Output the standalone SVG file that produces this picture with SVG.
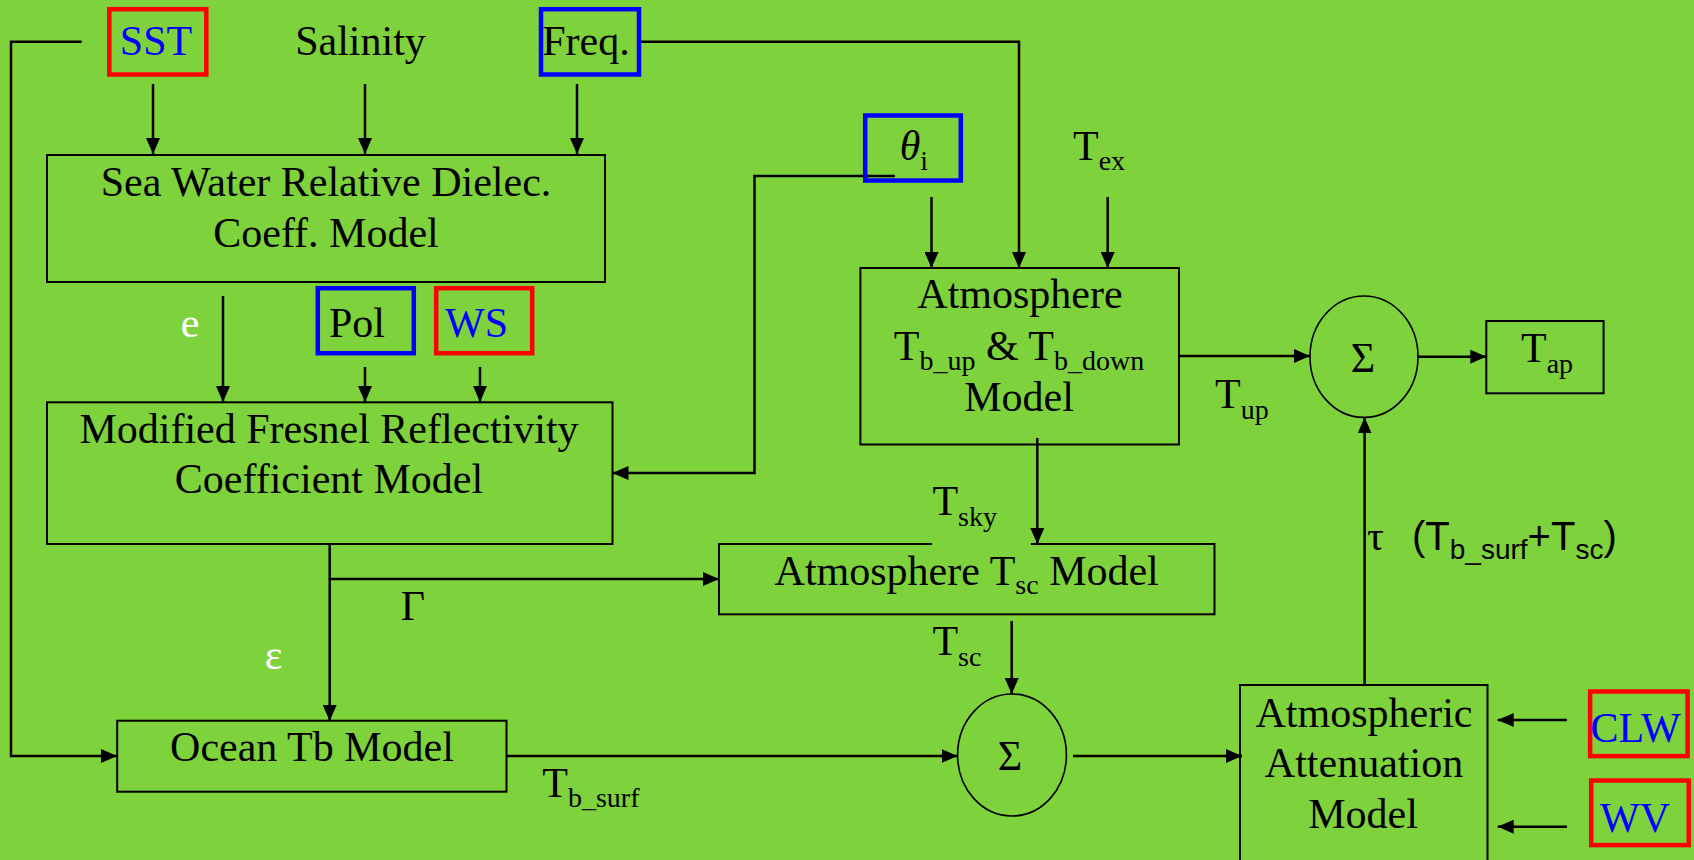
<svg xmlns="http://www.w3.org/2000/svg" width="1694" height="860" viewBox="0 0 1694 860">
<style>
.t{font-family:"Liberation Serif","Times New Roman",serif;font-size:42px;fill:#000}
.c{text-anchor:middle}
.blue{fill:#0000FF}
.white{fill:#FFFFFF}
.sub{font-size:28px}
.sans{font-family:"Liberation Sans",Arial,sans-serif}
.box{fill:none;stroke:#000;stroke-width:2}
.rb{fill:none;stroke:#FF0000;stroke-width:4.5}
.bb{fill:none;stroke:#0000FF;stroke-width:4.5}
.ln{fill:none;stroke:#000;stroke-width:2.5}
.el{fill:none;stroke:#000;stroke-width:1.6}
</style>
<defs>
<marker id="ah" markerUnits="userSpaceOnUse" markerWidth="16" markerHeight="14" refX="16" refY="7" orient="auto">
<path d="M0,0 L16,7 L0,14 z" fill="#000"/>
</marker>
</defs>
<rect x="0" y="0" width="1694" height="860" fill="#7ED23B"/>

<g id="connectors">
<path class="ln" d="M81.7,41.7 H11 V756 H117" marker-end="url(#ah)"/>
<path class="ln" d="M153,84 V154" marker-end="url(#ah)"/>
<path class="ln" d="M365,84 V154" marker-end="url(#ah)"/>
<path class="ln" d="M577,84 V154" marker-end="url(#ah)"/>
<path class="ln" d="M641,41.7 H1019 V268" marker-end="url(#ah)"/>
<path class="ln" d="M223,296 V402" marker-end="url(#ah)"/>
<path class="ln" d="M365,367 V402" marker-end="url(#ah)"/>
<path class="ln" d="M480,367 V402" marker-end="url(#ah)"/>
<path class="ln" d="M895,176 H754.5 V473 H612.5" marker-end="url(#ah)"/>
<path class="ln" d="M931.5,197 V268" marker-end="url(#ah)"/>
<path class="ln" d="M1107.7,197 V268" marker-end="url(#ah)"/>
<path class="ln" d="M329.7,544 V721" marker-end="url(#ah)"/>
<path class="ln" d="M329.7,579 H719" marker-end="url(#ah)"/>
<path class="ln" d="M1037.3,438 V544" marker-end="url(#ah)"/>
<path class="ln" d="M1011.7,621 V694" marker-end="url(#ah)"/>
<path class="ln" d="M506.5,756 H957.6" marker-end="url(#ah)"/>
<path class="ln" d="M1073,756 H1242" marker-end="url(#ah)"/>
<path class="ln" d="M1179,356 H1310" marker-end="url(#ah)"/>
<path class="ln" d="M1418,356.7 H1486.3" marker-end="url(#ah)"/>
<path class="ln" d="M1364.6,685 V417.3" marker-end="url(#ah)"/>
<path class="ln" d="M1567,720 H1497.7" marker-end="url(#ah)"/>
<path class="ln" d="M1567,826.7 H1497.7" marker-end="url(#ah)"/>
</g>

<g id="sst"><rect class="rb" x="109.3" y="9.2" width="97" height="65.3"/><text class="t c blue" x="156" y="55">SST</text></g>
<g id="salinity"><text class="t c" x="360.5" y="55">Salinity</text></g>
<g id="freq"><rect class="bb" x="541" y="9.2" width="98" height="65.3"/><text class="t c" x="586" y="55">Freq.</text></g>

<g id="seawater"><rect class="box" x="47" y="155" width="558" height="127"/>
<text class="t c" x="326" y="196">Sea Water Relative Dielec.</text>
<text class="t c" x="326" y="246.7">Coeff. Model</text></g>

<g id="label-e"><text class="t c white" x="190" y="337">e</text></g>
<g id="pol"><rect class="bb" x="317.8" y="288.2" width="96" height="65"/><text class="t c" x="357" y="337.3">Pol</text></g>
<g id="ws"><rect class="rb" x="436.2" y="288.2" width="96" height="65"/><text class="t c blue" x="476.5" y="337.3">WS</text></g>

<g id="fresnel"><rect class="box" x="47" y="402.3" width="565.5" height="141.7"/>
<text class="t c" x="329" y="443.3">Modified Fresnel Reflectivity</text>
<text class="t c" x="329" y="493.3">Coefficient Model</text></g>

<g id="theta"><rect class="bb" x="865.2" y="115.5" width="95.6" height="65"/>
<text class="t" x="899.7" y="160"><tspan font-style="italic">θ</tspan><tspan class="sub" dy="10">i</tspan></text></g>
<g id="tex"><text class="t" x="1073" y="160">T<tspan class="sub" dy="10">ex</tspan></text></g>

<g id="atmos"><rect class="box" x="860.4" y="268" width="318.6" height="176.5"/>
<text class="t c" x="1020" y="308.3">Atmosphere</text>
<text class="t c" x="1019" y="360">T<tspan class="sub" dy="10">b_up</tspan><tspan dy="-10"> &amp; T</tspan><tspan class="sub" dy="10">b_down</tspan></text>
<text class="t c" x="1019" y="410.7">Model</text></g>

<g id="label-tup"><text class="t" x="1215" y="408.3">T<tspan class="sub" dy="11">up</tspan></text></g>
<g id="sum-top"><ellipse class="el" cx="1364" cy="356.7" rx="54" ry="60.7"/><text class="t c" x="1363" y="372" font-size="44">Σ</text></g>
<g id="tap"><rect class="box" x="1486.3" y="321" width="117.3" height="72.3"/>
<text class="t" x="1521" y="361.7">T<tspan class="sub" dy="11">ap</tspan></text></g>

<g id="label-tsky"><text class="t" x="932.4" y="515">T<tspan class="sub" dy="11">sky</tspan></text></g>
<g id="atmos-tsc"><rect class="box" x="719" y="544" width="495.5" height="70.3"/>
<rect x="932" y="541" width="99" height="5" fill="#7ED23B"/>
<text class="t c" x="966.7" y="585">Atmosphere T<tspan class="sub" dy="9">sc</tspan><tspan dy="-9"> Model</tspan></text></g>
<g id="label-gamma"><text class="t c" x="413" y="620">Γ</text></g>
<g id="label-eps"><text class="t c white" x="273.6" y="669">ε</text></g>
<g id="label-tsc"><text class="t" x="932.4" y="655">T<tspan class="sub" dy="11">sc</tspan></text></g>

<g id="ocean"><rect class="box" x="117.2" y="720.7" width="389.3" height="71"/>
<text class="t c" x="312" y="760.7">Ocean Tb Model</text></g>
<g id="label-tbsurf"><text class="t" x="542.3" y="797.3">T<tspan class="sub" dy="10">b_surf</tspan></text></g>
<g id="sum-bottom"><ellipse class="el" cx="1012" cy="755" rx="54.4" ry="61"/><text class="t c" x="1010" y="770" font-size="44">Σ</text></g>

<g id="label-tau"><text class="t" x="1367" y="550" font-size="40">τ</text>
<text class="sans" x="1412" y="550" font-size="40">(T<tspan font-size="28" dy="9">b_surf</tspan><tspan dy="-9">+T</tspan><tspan font-size="28" dy="9">sc</tspan><tspan dy="-9">)</tspan></text></g>

<g id="attenuation"><rect class="box" x="1240" y="685" width="247.5" height="200"/>
<text class="t c" x="1364" y="726.7">Atmospheric</text>
<text class="t c" x="1364" y="776.7">Attenuation</text>
<text class="t c" x="1363" y="828.3">Model</text></g>

<g id="clw"><rect class="rb" x="1590.1" y="691.5" width="97.5" height="64.6"/><text class="t c blue" x="1635.6" y="741.7">CLW</text></g>
<g id="wv"><rect class="rb" x="1591.2" y="780.5" width="97.5" height="64.6"/><text class="t c blue" x="1635" y="831.7">WV</text></g>
</svg>
